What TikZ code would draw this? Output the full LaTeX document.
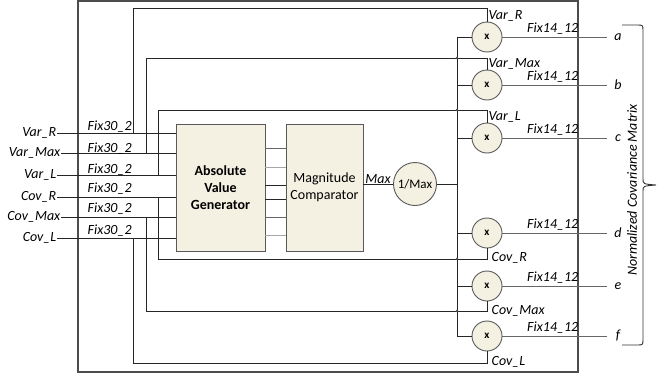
\documentclass[tikz,border=0pt]{standalone}
\usepackage{fontspec}
\setmainfont{Carlito}
\begin{document}
\begin{tikzpicture}[x=1pt,y=-1pt,
  lbl/.style={font=\fontsize{14}{15}\selectfont\itshape, inner sep=0.5pt},
  blk/.style={draw=black!65, fill=beigeC, line width=0.9pt, minimum width=89pt, minimum height=127pt, inner sep=0pt, align=center},
  mul/.style={circle, draw=black!65, fill=beigeC, line width=0.9pt, minimum size=30pt, inner sep=0pt, font=\fontsize{11}{11}\selectfont\bfseries},
  wire/.style={line width=0.8pt, black!85},
  faint/.style={line width=0.7pt, black!35},
  mid/.style={line width=0.7pt, black!60}]
\definecolor{beigeC}{HTML}{F4F1E2}
\useasboundingbox (0,0) rectangle (665,378);
% outer box
\draw[line width=1.4pt, black!70] (78,1) rectangle (578,372);
% blocks
\node[blk, font=\fontsize{14}{17}\selectfont\bfseries] (avg) at (220.5,187.5) {Absolute\\Value\\Generator};
\node[blk, minimum width=77pt, font=\fontsize{14}{17}\selectfont] (mc) at (324.5,187.5) {Magnitude\\Comparator};
\node[circle, draw=black!65, fill=beigeC, line width=0.9pt, minimum size=43pt, inner sep=0pt, font=\fontsize{13}{13}\selectfont] (inv) at (415,184) {1/Max};
% multipliers
\node[mul] (ma) at (487,37) {x};
\node[mul] (mb) at (487,85) {x};
\node[mul] (mc1) at (487,138) {x};
\node[mul] (md) at (487,233) {x};
\node[mul] (me) at (487,286) {x};
\node[mul] (mf) at (487,336) {x};
% input labels
\node[lbl, anchor=east] (iVR) at (57,133) {Var\_R};
\node[lbl, anchor=east] (iVM) at (61,153) {Var\_Max};
\node[lbl, anchor=east] (iVL) at (57,175) {Var\_L};
\node[lbl, anchor=east] (iCR) at (57,197) {Cov\_R};
\node[lbl, anchor=east] (iCM) at (61,217) {Cov\_Max};
\node[lbl, anchor=east] (iCL) at (57,238) {Cov\_L};
\foreach \n in {iVR,iVM,iVL,iCR,iCM,iCL}{
  \draw[wire] (\n.east) -- (\n.east -| avg.west);
}
\foreach \y in {127,149,170,189,209,231}{
  \node[lbl, anchor=west] at (87,\y) {Fix30\_2};
}
% taps
\coordinate (tVR) at (133,133); \coordinate (cVR) at (133,8);
\coordinate (tVM) at (146,153); \coordinate (cVM) at (146,58);
\coordinate (tVL) at (158,175); \coordinate (cVL) at (158,110);
\coordinate (tCR) at (158,197); \coordinate (cCR) at (158,259);
\coordinate (tCM) at (146,217); \coordinate (cCM) at (146,311);
\coordinate (tCL) at (133,238); \coordinate (cCL) at (133,363);
\draw[wire] (tVR) -- (cVR) -| (ma.north);
\draw[wire] (tVM) -- (cVM) -| (mb.north);
\draw[wire] (tVL) -- (cVL) -| (mc1.north);
\draw[wire] (tCR) -- (cCR) -| (md.south);
\draw[wire] (tCM) -- (cCM) -| (me.south);
\draw[wire] (tCL) -- (cCL) -| (mf.south);
% between blocks
\draw[mid] (avg.east |- 0,148) -- (mc.west |- 0,148);
\draw[faint] (avg.east |- 0,167) -- (mc.west |- 0,167);
\draw[wire] (avg.east |- 0,185) -- (mc.west |- 0,185);
\draw[wire] (avg.east |- 0,199) -- (mc.west |- 0,199);
\draw[mid] (avg.east |- 0,217) -- (mc.west |- 0,217);
\draw[faint] (avg.east |- 0,235) -- (mc.west |- 0,235);
% max
\draw[wire] (mc.east |- inv.west) -- (inv.west);
\node[lbl, anchor=south] (maxl) at (378,184) {Max};
% bus
\coordinate (bT) at (457,37); \coordinate (bB) at (457,336);
\draw[wire] (bT) -- (bB);
\draw[wire] (inv.east) -- (inv.east -| bT);
\foreach \m in {ma,mb,mc1,md,me,mf}{ \draw[wire] (\m.west -| bT) -- (\m.west); }
% hops
\foreach \y in {58,110,259,311}{ \fill[black!70] (457,\y) circle (1.3pt); }
% outputs
\foreach \m/\t in {ma/a,mb/b,mc1/c,md/d,me/e,mf/f}{
  \node[lbl] (o\t) at (618,0 |- \m) {\t};
  \draw[mid] (\m.east) -- (607,0 |- \m);
  \node[lbl, anchor=south east] at (579,0 |- \m) [yshift=1.5pt] {Fix14\_12};
}
% variable labels at multipliers
\node[lbl, anchor=west] at (488,16) {Var\_R};
\node[lbl, anchor=west] at (488,64) {Var\_Max};
\node[lbl, anchor=west] at (488,117) {Var\_L};
\node[lbl, anchor=west] at (491,258) {Cov\_R};
\node[lbl, anchor=west] at (491,311) {Cov\_Max};
\node[lbl, anchor=west] at (491,362) {Cov\_L};
% brace
\draw[line width=0.9pt, black!80] (622,25) -- (637,25) .. controls (643,25) .. (643,31) -- (643,179) .. controls (643,184) .. (656,185) .. controls (643,186) .. (643,191) -- (643,339) .. controls (643,345) .. (637,345) -- (622,345);
\node[lbl, rotate=90] (nc) at (632,190) {Normalized Covariance Matrix};
\end{tikzpicture}
\end{document}
